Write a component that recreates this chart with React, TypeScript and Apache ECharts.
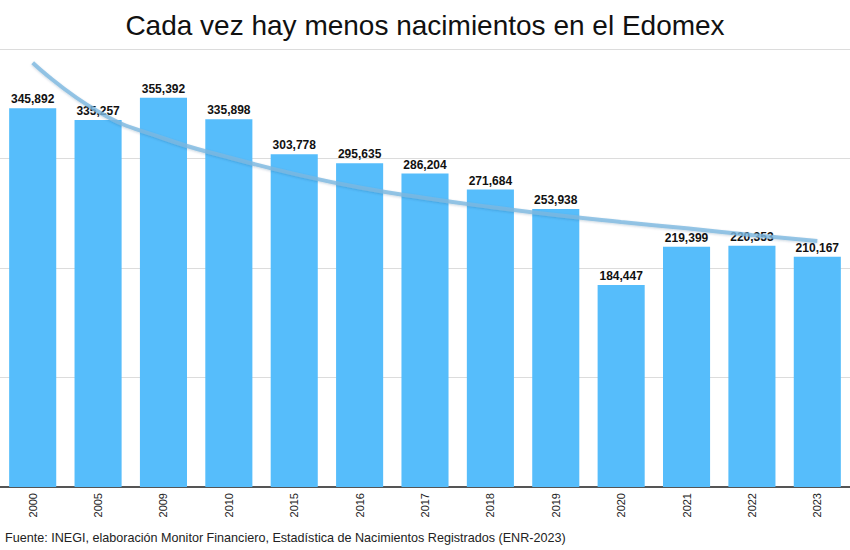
import React, { useEffect, useRef } from "react";
import * as echarts from "echarts";

const years = ["2000", "2005", "2009", "2010", "2015", "2016", "2017", "2018", "2019", "2020", "2021", "2022", "2023"];
const births = [345892, 335257, 355392, 335898, 303778, 295635, 286204, 271684, 253938, 184447, 219399, 220353, 210167];
// trend line
const trend = [387500, 343000, 318500, 301000, 286000, 273500, 264000, 255700, 248300, 242000, 236200, 230100, 224700];
const titleText = "Cada vez hay menos nacimientos en el Edomex";
const sourceText = "Fuente: INEGI, elaboración Monitor Financiero, Estadística de Nacimientos Registrados (ENR-2023)";

export default function App() {
  const ref = useRef<HTMLDivElement>(null);
  useEffect(() => {
    if (!ref.current) return;
    const chart = echarts.init(ref.current, null, { renderer: "svg" });
    const font = "'Liberation Sans', Arial, sans-serif";
    chart.setOption({
      animation: false,
      textStyle: { fontFamily: font },
      title: {
        text: titleText,
        left: "center",
        top: 6,
        textStyle: { fontSize: 28, fontWeight: "normal", color: "#111", fontFamily: font },
      },
      graphic: [
        {
          type: "text",
          left: 5,
          top: 531,
          style: { text: sourceText, fontSize: 12.6, fill: "#222", fontFamily: font },
        },
      ],
      grid: { left: 0, right: 0, top: 49, bottom: 63, containLabel: false },
      xAxis: {
        type: "category",
        data: years,
        axisLine: { show: true, lineStyle: { color: "#555", width: 2 } },
        axisTick: { show: false },
        axisLabel: { rotate: 90, fontSize: 11, color: "#222", margin: 6, fontFamily: font },
      },
      yAxis: {
        type: "value",
        min: 0,
        max: 400000,
        interval: 100000,
        axisLabel: { show: false },
        axisLine: { show: false },
        axisTick: { show: false },
        splitLine: { lineStyle: { color: "#dcdcdc", width: 1 } },
      },
      series: [
        {
          type: "bar",
          data: births,
          barWidth: "72%",
          itemStyle: { color: "#56bdfb" },
          label: {
            show: true,
            position: "top",
            distance: 3,
            fontSize: 12,
            fontWeight: "bold",
            color: "#111",
            fontFamily: font,
            formatter: (p: any) => Number(p.value).toLocaleString("en-US"),
          },
        },
        {
          type: "line",
          data: trend,
          smooth: true,
          symbol: "none",
          lineStyle: { color: "rgba(125,185,225,0.8)", width: 4, shadowColor: "rgba(0,60,110,0.25)", shadowBlur: 2, shadowOffsetY: 1 },
          z: 5,
        },
      ],
    });
    return () => chart.dispose();
  }, []);
  return <div ref={ref} style={{ position: "fixed", left: 0, top: 0, width: 850, height: 550, background: "#fff" }} />;
}
